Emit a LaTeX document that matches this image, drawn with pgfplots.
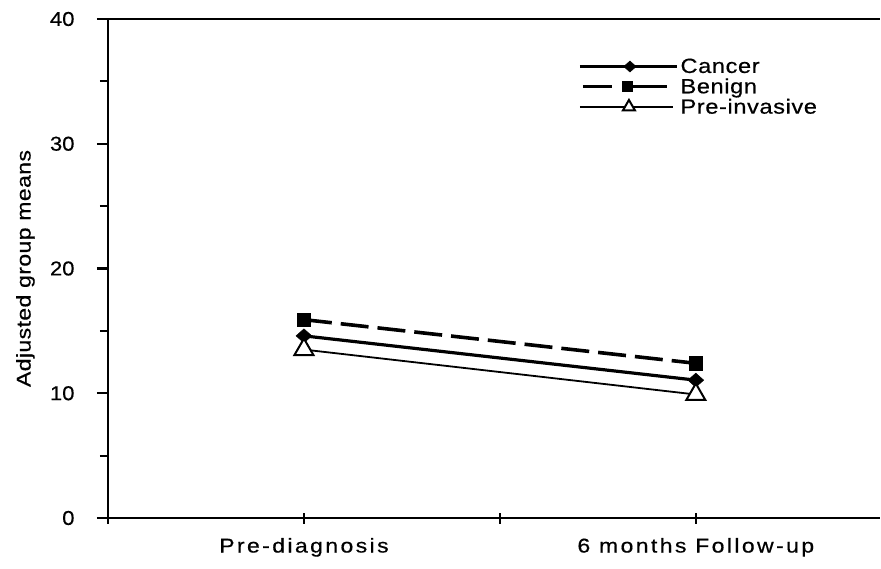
\documentclass[border=0pt]{standalone}
\usepackage{pgfplots}
\pgfplotsset{compat=1.18}
\usepackage{fontspec}
\setmainfont{Liberation Sans}
\newfontfamily\wide[LetterSpace=12, FakeStretch=1.15, FakeBold=0.5]{Liberation Sans}
\newfontfamily\numf[FakeStretch=1.1, FakeBold=0.5]{Liberation Sans}
\newfontfamily\legf[LetterSpace=3, FakeStretch=1.15, FakeBold=0.5]{Liberation Sans}
\newfontfamily\ylf[LetterSpace=2, FakeStretch=1.15, FakeBold=0.5]{Liberation Sans}
\pgfplotsset{
  benignleg/.style={legend image code/.code={\draw[mark repeat=2,mark phase=2,##1, dash pattern=on 29pt off 21pt on 34pt off 10pt, mark size=5pt] plot coordinates {(3pt,0pt) (47pt,0pt) (87pt,0pt)};}},
  preleg/.style={legend image code/.code={\draw[mark repeat=2,mark phase=2,##1, mark size=7pt] plot coordinates {(0pt,0pt) (49pt,0pt) (93pt,0pt)};}},
  cancerleg/.style={legend image code/.code={\draw[mark repeat=2,mark phase=2,##1, mark size=5.5pt] plot coordinates {(0pt,0pt) (50pt,0pt) (97pt,0pt)};}},
}
\begin{document}
\begin{tikzpicture}
\begin{axis}[
  scale only axis,
  width=772pt, height=499pt,
  xmin=0, xmax=3.94,
  ymin=0, ymax=40,
  clip=false,
  axis x line*=bottom, axis y line*=left,
  axis line style={-, line width=2.6pt},
  xtick={0,1,2,3},
  xticklabels={{},Pre-diagnosis,{},6 months Follow-up},
  ytick={0,10,20,30,40},
  minor y tick num=1,
  x tick style={line width=2.2pt, black},
  y tick style={line width=2.2pt, black},
  xtick align=center,
  ytick align=outside,
  major tick length=11pt,
  minor tick length=8pt,
  /pgf/number format/assume math mode=true,
  xticklabel style={font=\wide\fontsize{20}{24}\selectfont, yshift=-11pt},
  yticklabel style={font=\numf\fontsize{20}{24}\selectfont, xshift=-19pt},
  ylabel={Adjusted group means},
  ylabel style={font=\ylf\fontsize{20}{24}\selectfont, at={(axis description cs:-0.107,0.5)}, anchor=center},
  legend style={draw=none, fill=none, at={(rel axis cs:0.609,0.925)}, anchor=north west,
     font=\legf\fontsize{20.5}{23}\selectfont, row sep=0pt, inner sep=0pt},
  legend cell align=left,
  legend image code/.code={\draw[mark repeat=2,mark phase=2,#1] plot coordinates {(0pt,0pt) (47pt,0pt) (94pt,0pt)};},
]
\addplot[black, line width=3.2pt, mark=diamond*, mark size=7pt, mark options={solid, xscale=1.5, line width=0.5pt}, cancerleg]
  coordinates {(1,14.6) (3,11.05)};
\addlegendentry{Cancer}
\addplot[black, line width=3.6pt, dash pattern=on 28pt off 9pt, mark=square*, mark size=6.6pt, mark options={solid, line width=0.5pt}, benignleg]
  coordinates {(1,15.9) (3,12.4)};
\addlegendentry{Benign}
\addplot[black, line width=1.8pt, mark=triangle*, mark size=11pt, mark options={solid, fill=white, line width=2pt}, preleg]
  coordinates {(1,13.5) (3,9.9)};
\addlegendentry{Pre-invasive}
\draw[line width=2.6pt] (rel axis cs:0,1) -- (rel axis cs:1,1);
\coordinate (bl) at (rel axis cs:0,0);
\coordinate (tr) at (rel axis cs:1,1);
\end{axis}
\path (bl) ++(-108pt,-50pt) coordinate (A);
\path (tr) ++(1pt,19pt) coordinate (B);
\pgfresetboundingbox
\path (A) rectangle (B);
\end{tikzpicture}
\end{document}
